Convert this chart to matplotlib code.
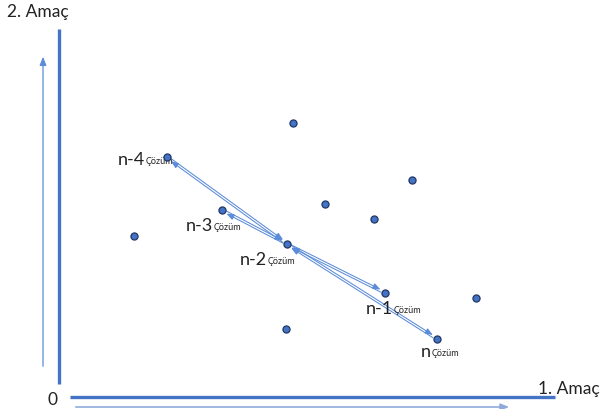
import numpy as np
import matplotlib
matplotlib.use("Agg")
import matplotlib.pyplot as plt

plt.rcParams['font.family'] = ['Lato', 'DejaVu Sans']

# Scatter points (objective 1, objective 2)
obj1 = [234, 108, 353, 266, 163, 315, 75, 228, 326, 417, 227, 378]
obj2 = [274, 240, 217, 193, 187, 178, 161, 153, 104, 99, 68, 58]

# Labelled solutions: index into the points
sol_names = ["n-4", "n-3", "n-2", "n-1", "n"]
sol_index = [1, 4, 7, 8, 11]
sub_text = "Çözüm"
# label offsets (pixels) of the label's left edge relative to the point
lab_dx = [-49, -36, -47, -19, -16]
lab_dy = [-2, -15, -15, -15, -12]

# Arrow pairs between solutions (both directions)
pairs = [("n-2", "n-4"), ("n-2", "n-3"), ("n-2", "n-1"), ("n-2", "n")]

axis_x_label = "1. Amaç"
axis_y_label = "2. Amaç"
origin_label = "0"

blue = "#4472C4"
light = "#5B8BD9"

fig = plt.figure(figsize=(6, 4.1), dpi=100)
ax = fig.add_axes([0, 0, 1, 1])
ax.set_xlim(-59, 541)
ax.set_ylim(-12, 398)
ax.axis('off')

# thick axes
ax.plot([0, 0], [13, 368], color=blue, lw=2.4, solid_capstyle='butt')
ax.plot([11, 496], [0, 0], color=blue, lw=2.4, solid_capstyle='butt')
# thin direction arrows
ax.annotate("", xy=(-16, 343), xytext=(-16, 28),
            arrowprops=dict(arrowstyle='-|>,head_length=0.5,head_width=0.2', color=light, lw=0.9))
ax.annotate("", xy=(453, -10), xytext=(14, -10),
            arrowprops=dict(arrowstyle='-|>,head_length=0.5,head_width=0.2', color="#8FAADC", lw=1.2))

ax.text(-52, 394, axis_y_label, fontsize=12.5, ha='left', va='top', color='#222222')
ax.text(479, 1, axis_x_label, fontsize=12.5, ha='left', va='bottom', color='#222222')
ax.text(-12, -2, origin_label, fontsize=12.5, ha='left', va='center', color='#222222')

# arrows
pos = {name: (obj1[i], obj2[i]) for name, i in zip(sol_names, sol_index)}
for a, b in pairs:
    p = np.array(pos[a], float)
    q = np.array(pos[b], float)
    d = q - p
    nrm = np.array([-d[1], d[0]]) / np.hypot(*d)
    for s, (u, v) in zip([1, -1], [(p, q), (q, p)]):
        off = nrm * 1.1 * s
        ax.annotate("", xy=tuple(v + off), xytext=tuple(u + off),
                    arrowprops=dict(arrowstyle='-|>,head_length=0.45,head_width=0.17',
                                    color=light, lw=0.75, shrinkA=3, shrinkB=4))

ax.scatter(obj1, obj2, s=26, color=blue, edgecolors='#1F3864', linewidths=0.9, zorder=5)

for name, i, dx, dy in zip(sol_names, sol_index, lab_dx, lab_dy):
    t = ax.annotate(name, xy=(obj1[i], obj2[i]), xytext=(dx * 0.72, dy * 0.72),
                    textcoords='offset points', fontsize=13, ha='left', va='center',
                    color='#222222')
    ax.annotate(sub_text, xy=(1, 0.12), xycoords=t, xytext=(0.3, 0),
                textcoords='offset points', fontsize=6.5, ha='left', va='bottom',
                color='#222222')

fig.savefig("out.png", dpi=100)
